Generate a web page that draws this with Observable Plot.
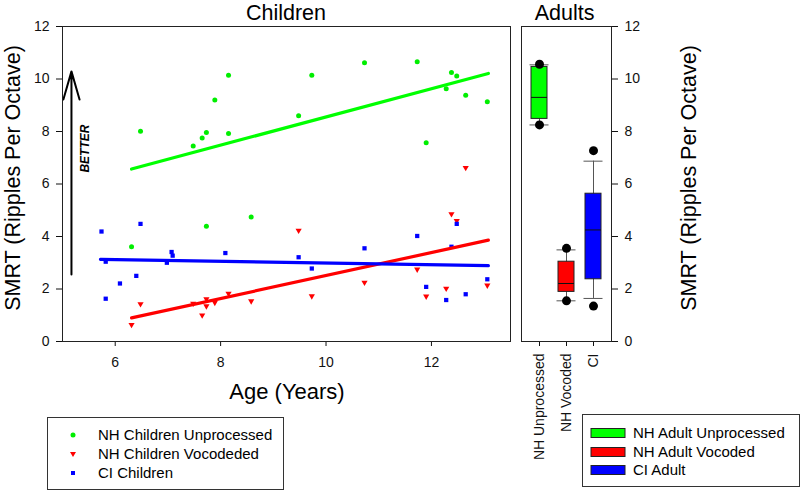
<!DOCTYPE html>
<html><head><meta charset="utf-8">
<script src="https://cdn.jsdelivr.net/npm/d3@7"></script>
<script src="https://cdn.jsdelivr.net/npm/@observablehq/plot@0.6"></script>
<style>
body{margin:0;background:#fff;font-family:"Liberation Sans",Arial,sans-serif}
#wrap{position:relative;width:800px;height:490px;overflow:hidden;background:#fff}
#wrap svg.layer{position:absolute;left:0;top:0}
.leg{position:absolute;border:1px solid #333;background:#fff;font-size:15px;box-sizing:border-box}
.row{position:absolute;white-space:nowrap;line-height:16px}
</style></head><body><div id="wrap"></div>
<script>
// ---------- data ----------
const GREEN = "#00ee00", RED = "#ff0000", BLUE = "#0000ff";
const nhUnprocAge = [6.31,6.48,7.48,7.65,7.73,7.73,7.89,8.15,8.15,8.58,9.48,9.73,10.73,11.73,11.9,12.28,12.38,12.48,12.65,13.06];
const nhUnprocVal = [3.61,8.01,7.45,7.75,7.96,4.39,9.2,10.14,7.92,4.74,8.6,10.14,10.62,10.66,7.57,9.63,10.25,10.11,9.38,9.13];
const nhVocAge = [6.31,6.48,7.48,7.65,7.73,7.73,7.89,8.15,8.58,9.48,9.73,10.73,11.73,11.9,12.28,12.38,12.48,12.65,13.06];
const nhVocVal = [0.64,1.43,1.45,1.0,1.62,1.35,1.48,1.83,1.54,4.23,1.73,2.25,2.75,1.72,2.02,4.86,4.6,6.62,2.14];
const ciAge = [5.74,5.82,5.82,6.09,6.40,6.48,6.98,7.07,7.09,8.09,9.48,9.73,10.73,11.73,11.9,12.28,12.38,12.48,12.65,13.06];
const ciVal = [4.19,3.04,1.63,2.21,2.5,4.48,3.0,3.41,3.27,3.37,3.21,2.78,3.55,4.02,2.08,1.58,3.61,4.48,1.8,2.37];
// fitted regression lines (end points)
const fitGreenAge = [6.31,13.08], fitGreenVal = [6.57,10.21];
const fitRedAge = [6.31,13.08],   fitRedVal = [0.9,3.86];
const fitBlueAge = [5.72,13.08],  fitBlueVal = [3.13,2.89];
// adults box plots
const adultGroups = ["NH Unprocessed","NH Vocoded","CI"];
const adultColors = ["#00ff00", RED, BLUE];
const adultQ1 = [8.48,1.89,2.37];
const adultMed = [9.3,2.21,4.25];
const adultQ3 = [10.46,3.04,5.63];
const adultWLo = [8.25,1.55,1.64];
const adultWHi = [10.54,3.49,6.87];
const adultOutLo = [8.25,1.55,1.35];
const adultOutHi = [10.56,3.55,7.27];
const yTicks = [0,2,4,6,8,10,12];
const xTicks = [6,8,10,12];
// "BETTER" arrow annotation
const betterArrow = [{x:5.17, y1:2.55, y2:10.29}];
const betterLabel = [{x:5.43, y:7.35, t:"BETTER"}];

// ---------- build tables ----------
const zip = (a,b)=>a.map((v,i)=>({age:v, v:b[i]}));
const nhU = zip(nhUnprocAge, nhUnprocVal);
const nhV = zip(nhVocAge, nhVocVal);
const ci = zip(ciAge, ciVal);
const fG = zip(fitGreenAge, fitGreenVal), fR = zip(fitRedAge, fitRedVal), fB = zip(fitBlueAge, fitBlueVal);
const adult = adultGroups.map((g,i)=>({g, c:adultColors[i], q1:adultQ1[i], med:adultMed[i], q3:adultQ3[i], wlo:adultWLo[i], whi:adultWHi[i]}));
const adultOut = adultGroups.flatMap((g,i)=>[{g, v:adultOutLo[i]},{g, v:adultOutHi[i]}]);

const FONT = "'Liberation Sans', Arial, sans-serif";
const W = 800, H = 490;
const wrap = document.getElementById("wrap");

const p1 = Plot.plot({
  width: W, height: H, marginLeft: 62, marginRight: 290, marginTop: 26, marginBottom: 149,
  style: {fontFamily: FONT, background: "transparent", color: "#111"},
  x: {domain: [5, 13.5]}, y: {domain: [0, 12]},
  marks: [
    Plot.axisY({ticks: yTicks, tickSize: 6, tickPadding: 7, fontSize: 14, label: null}),
    Plot.axisX({ticks: xTicks, tickSize: 5, tickPadding: 11, fontSize: 14, label: null}),
    Plot.dot(nhU, {x: "age", y: "v", r: 2.5, fill: GREEN, symbol: "circle"}),
    Plot.dot(nhV, {x: "age", y: "v", r: 2.3, fill: RED, symbol: "triangle", rotate: 180}),
    Plot.dot(ci, {x: "age", y: "v", r: 2.4, fill: BLUE, symbol: "square"}),
    Plot.line(fG, {x: "age", y: "v", stroke: "#00ff00", strokeWidth: 3.2}),
    Plot.line(fR, {x: "age", y: "v", stroke: RED, strokeWidth: 3.2}),
    Plot.line(fB, {x: "age", y: "v", stroke: BLUE, strokeWidth: 3.2}),
    Plot.arrow(betterArrow, {x: "x", y1: "y1", y2: "y2", stroke: "#000", strokeWidth: 2, headAngle: 32, headLength: 22}),
    Plot.text(betterLabel, {x: "x", y: "y", text: "t", rotate: -90, fontSize: 12, fontWeight: "bold", fontStyle: "italic", fill: "#000"}),
    Plot.frame({stroke: "#222"})
  ]
});
p1.setAttribute("class", (p1.getAttribute("class")||"") + " layer");
wrap.appendChild(p1);

const p2 = Plot.plot({
  width: W, height: H, marginLeft: 521, marginRight: 189, marginTop: 26, marginBottom: 149,
  style: {fontFamily: FONT, background: "transparent", color: "#111"},
  x: {type: "band", domain: adultGroups, paddingInner: 0.418, paddingOuter: 0.345},
  y: {domain: [0, 12]},
  color: {type: "identity"},
  marks: [
    Plot.ruleX(adult, {x: "g", y1: "wlo", y2: "whi", stroke: "#555"}),
    Plot.tickY(adult, {x: "g", y: "wlo", stroke: "#555", insetLeft: -1.5, insetRight: -1.5}),
    Plot.tickY(adult, {x: "g", y: "whi", stroke: "#555", insetLeft: -1.5, insetRight: -1.5}),
    Plot.barY(adult, {x: "g", y1: "q1", y2: "q3", fill: "c", stroke: "#222", strokeWidth: 1}),
    Plot.tickY(adult, {x: "g", y: "med", stroke: "#111"}),
    Plot.dot(adultOut, {x: "g", y: "v", r: 4.5, fill: "#000"}),
    Plot.axisY({anchor: "right", ticks: yTicks, tickSize: 6, tickPadding: 7, fontSize: 14, label: null}),
    Plot.axisX({tickRotate: -90, tickSize: 5, tickPadding: 7, fontSize: 14, label: null}),
    Plot.frame({stroke: "#222"})
  ]
});
p2.setAttribute("class", (p2.getAttribute("class")||"") + " layer");
wrap.appendChild(p2);

// ---------- titles & axis labels ----------
const ov = d3.select(wrap).append("svg").attr("class","layer").attr("width",W).attr("height",H)
  .style("font-family", FONT).style("pointer-events","none");
const txt = (s,x,y,size,rot,base)=>ov.append("text").text(s).attr("text-anchor","middle")
  .attr("dominant-baseline", base || "middle").attr("font-size",size).attr("fill","#000")
  .attr("transform",`translate(${x},${y})${rot?` rotate(${rot})`:""}`);
txt("Children", 286, 19.5, 21.5, 0, "alphabetic");
txt("Adults", 564.5, 19.5, 21.5, 0, "alphabetic");
txt("Age (Years)", 287, 399, 22, 0, "alphabetic");
txt("SMRT (Ripples Per Octave)", 14, 178, 21.5, -90);
txt("SMRT (Ripples Per Octave)", 690, 178, 21.5, -90);

// ---------- legends ----------
const childLeg = [
  {label:"NH Children Unprocessed", sym:"circle", c:GREEN},
  {label:"NH Children Vocodeded", sym:"tri", c:RED},
  {label:"CI Children", sym:"square", c:BLUE}
];
const l1 = document.createElement("div");
l1.className = "leg";
Object.assign(l1.style, {left:"47px", top:"417px", width:"237px", height:"73px"});
childLeg.forEach((d,i)=>{
  const r = document.createElement("div"); r.className = "row";
  r.style.left = "0px"; r.style.top = (8.5 + i*19) + "px";
  let s;
  if (d.sym==="circle") s = `<circle cx="25" cy="8" r="2.5" fill="${d.c}"/>`;
  else if (d.sym==="tri") s = `<path d="M22,6 L28,6 L25,11 Z" fill="${d.c}"/>`;
  else s = `<rect x="23" y="6" width="4" height="4" fill="${d.c}"/>`;
  r.innerHTML = `<svg width="50" height="16" style="vertical-align:top">${s}</svg><span>${d.label}</span>`;
  l1.appendChild(r);
});
wrap.appendChild(l1);

const adultLeg = ["NH Adult Unprocessed","NH Adult Vocoded","CI Adult"];
const l2 = document.createElement("div");
l2.className = "leg";
Object.assign(l2.style, {left:"582px", top:"414px", width:"218px", height:"73px"});
adultLeg.forEach((lab,i)=>{
  const r = document.createElement("div"); r.className = "row";
  r.style.left = "7px"; r.style.top = (10 + i*18.7) + "px";
  r.innerHTML = `<svg width="43" height="16" style="vertical-align:top"><rect x="1" y="3.5" width="34" height="9" fill="${adultColors[i]}" stroke="#222"/></svg><span>${lab}</span>`;
  l2.appendChild(r);
});
wrap.appendChild(l2);
</script></body></html>
